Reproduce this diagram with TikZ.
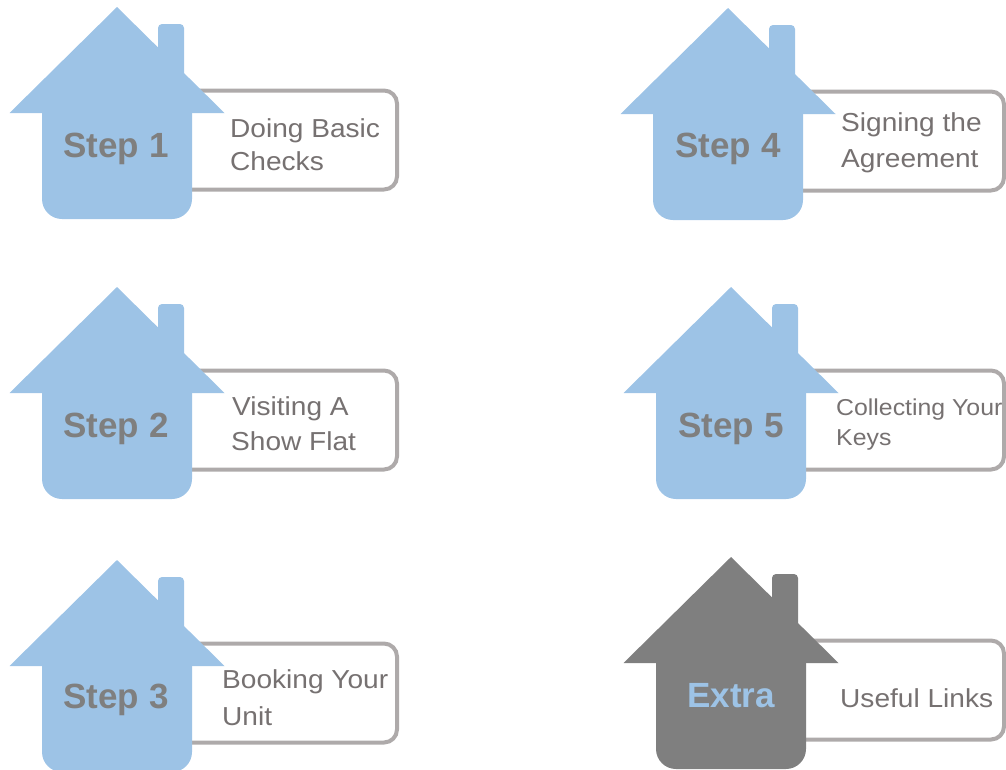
\documentclass[tikz,border=0pt]{standalone}
\usepackage{fontspec}
\setmainfont{Liberation Sans}
\newfontfamily\boxfont[FakeStretch=1.08]{Liberation Sans}
\definecolor{houseblue}{HTML}{9DC3E6}
\definecolor{housegray}{HTML}{7F7F7F}
\definecolor{steptext}{HTML}{7F7F7F}
\definecolor{boxline}{HTML}{AEAAAA}
\definecolor{boxtext}{HTML}{767171}
\tikzset{
  pics/house/.style={code={
    \fill[#1] (-107.5,106) -- (0,0) -- (107.5,106) -- cycle;
    \fill[#1, rounded corners=4pt] (41,85) -- (41,17) -- (67,17) -- (67,85) -- cycle;
    \fill[#1, rounded corners=20pt] (-75,80) rectangle (75,212);
  }},
  labelbox/.style={draw=boxline, line width=4pt, rounded corners=13pt, inner sep=0pt, fill=white, minimum height=99pt},
  steplabel/.style={anchor=base, inner sep=0pt, font=\fontsize{35}{40}\selectfont\bfseries, text=steptext},
  boxlabel/.style={anchor=base west, inner sep=0pt, font=\boxfont\fontsize{26}{30}\selectfont, text=boxtext},
}
\begin{document}
\begin{tikzpicture}[x=1pt,y=-1pt]
\useasboundingbox (0,0) rectangle (1006,769);
% boxes
\node[labelbox, minimum width=280pt] (b1) at (257,140) {};
\node[labelbox, minimum width=280pt] (b2) at (257,420) {};
\node[labelbox, minimum width=280pt] (b3) at (257,693) {};
\node[labelbox, minimum width=276pt] (b4) at (866,141) {};
\node[labelbox, minimum width=273pt] (b5) at (867.5,420) {};
\node[labelbox, minimum width=273pt] (b6) at (867.5,690) {};
% houses
\pic at (117,7) {house=houseblue};
\pic at (117,287) {house=houseblue};
\pic at (117,560) {house=houseblue};
\pic at (728,8) {house=houseblue};
\pic at (731,287) {house=houseblue};
\pic at (731,557) {house=housegray};
% step labels
\node[steplabel] (s1) at (116,157) {Step 1};
\node[steplabel] (s2) at (116,437) {Step 2};
\node[steplabel] (s3) at (116,708) {Step 3};
\node[steplabel] (s4) at (728,157) {Step 4};
\node[steplabel] (s5) at (731,437) {Step 5};
\node[steplabel, text=houseblue] (s6) at (731,707) {Extra};
% box texts
\node[boxlabel] (t1a) at (230,137) {Doing Basic};
\node[boxlabel] (t1b) at (230,170) {Checks};
\node[boxlabel] (t2a) at (232,415) {Visiting A};
\node[boxlabel] (t2b) at (231,450) {Show Flat};
\node[boxlabel] (t3a) at (222,688) {Booking Your};
\node[boxlabel] (t3b) at (222,725) {Unit};
\node[boxlabel] (t4a) at (841,131) {Signing the};
\node[boxlabel] (t4b) at (841,167) {Agreement};
\node[boxlabel, font=\boxfont\fontsize{23}{28}\selectfont] (t5a) at (836,415) {Collecting Your};
\node[boxlabel, font=\boxfont\fontsize{23}{28}\selectfont] (t5b) at (836,445) {Keys};
\node[boxlabel] (t6a) at (840,707) {Useful Links};
\end{tikzpicture}
\end{document}
